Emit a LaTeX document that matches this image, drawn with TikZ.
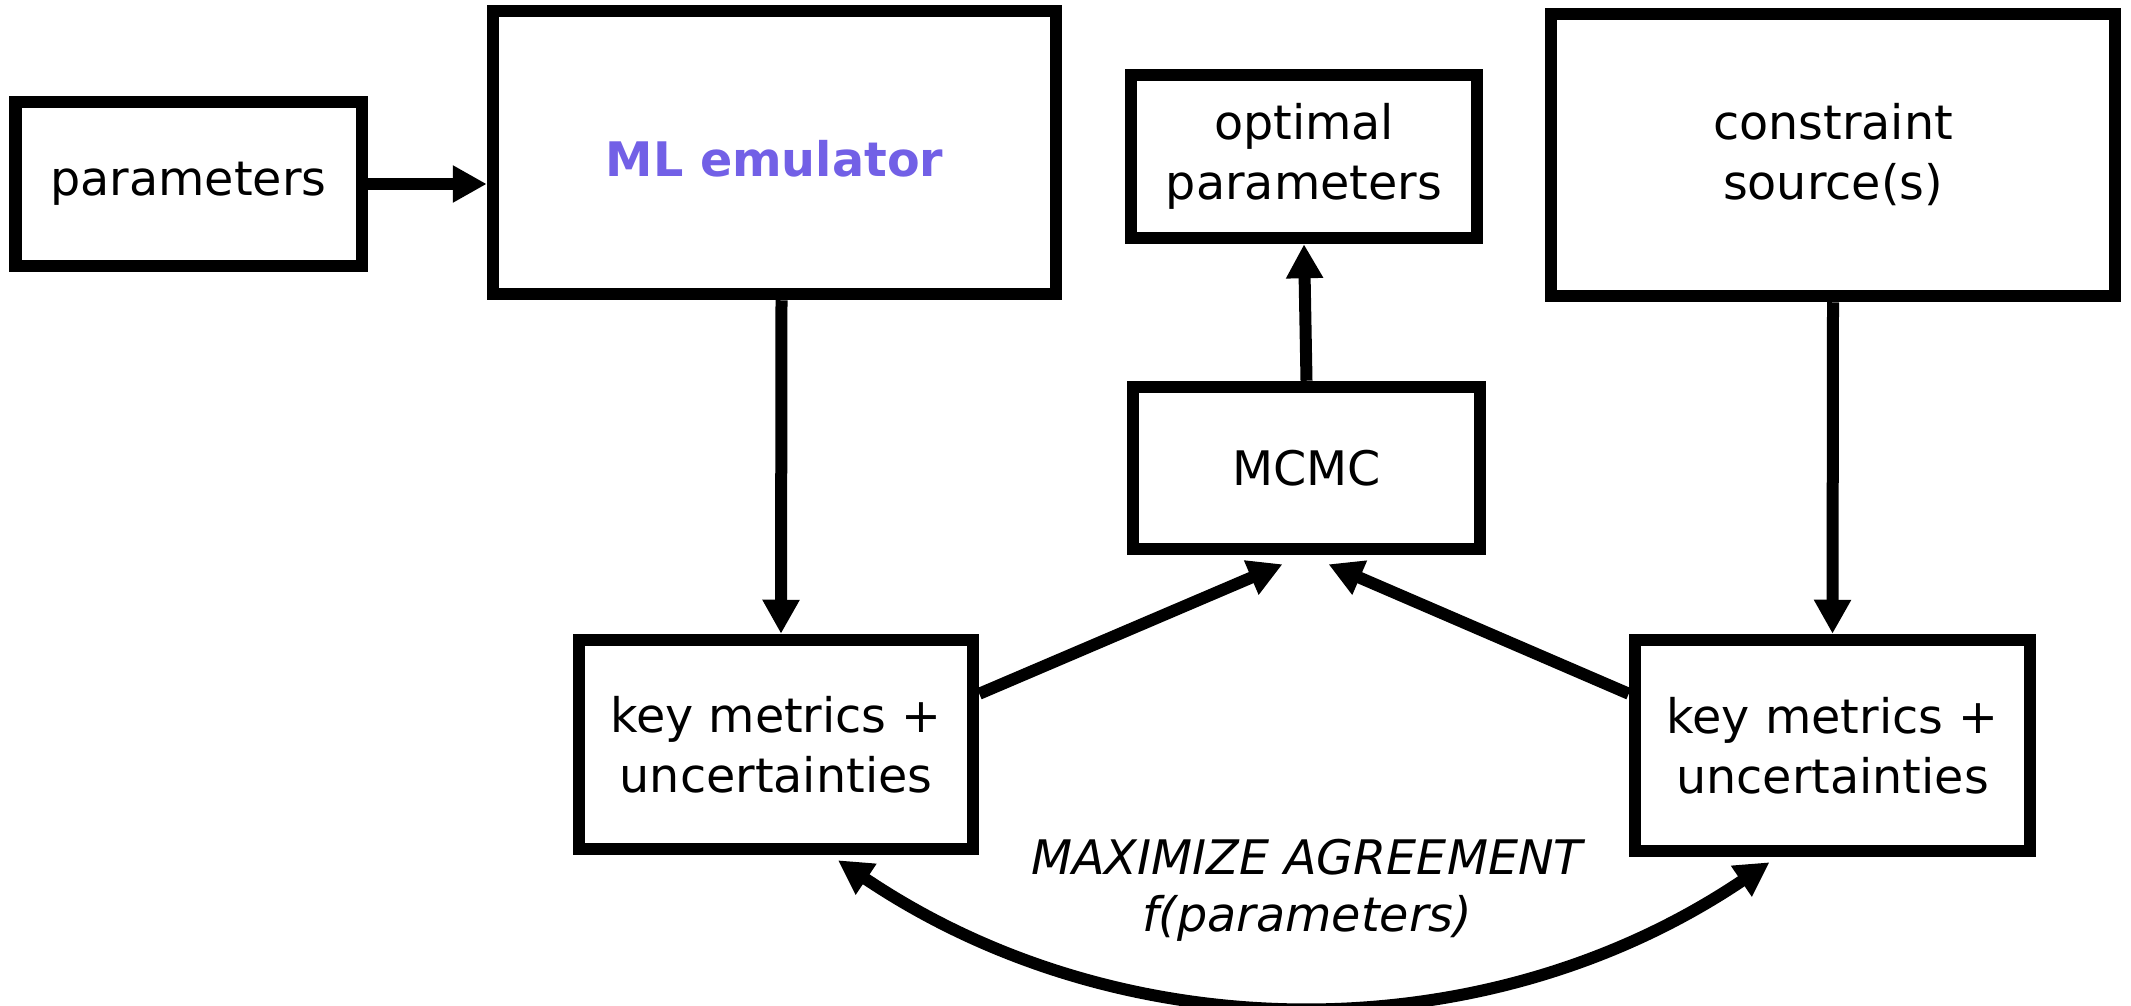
\documentclass[tikz,border=0pt]{standalone}
\usepackage{fontspec}
\setmainfont{DejaVu Sans}
\usetikzlibrary{arrows.meta,calc}
\definecolor{mlpurple}{RGB}{114,96,230}
\tikzset{
  box/.style={draw=black, line width=12.5pt, fill=white, rectangle, inner sep=0pt, align=center,
    font=\fontsize{47.6}{60}\selectfont},
  arr/.style={line width=12pt, -{Triangle[length=34pt,width=35pt]}},
  darr/.style={line width=12pt, {Triangle[length=34pt,width=35pt]}-{Triangle[length=34pt,width=35pt]}},
}
\begin{document}
\begin{tikzpicture}[x=1pt,y=-1pt]
\useasboundingbox (0,0) rectangle (2131,1006);
\node[box, minimum width=346.5pt, minimum height=164pt] (par) at (188.5,184) {parameters};
\node[box, minimum width=563pt, minimum height=283pt, text=mlpurple, text height=48pt, text depth=0.2pt, font=\fontsize{47.6}{60}\selectfont\bfseries] (ml) at (774.5,152.5) {ML emulator};
\node[box, minimum width=346pt, minimum height=163pt] (opt) at (1304,156.5) {optimal\\parameters};
\node[box, minimum width=564pt, minimum height=282pt] (con) at (1833,155) {constraint\\source(s)};
\node[box, minimum width=347pt, minimum height=162pt] (mcmc) at (1306.5,468) {MCMC};
\node[box, minimum width=394pt, minimum height=209pt] (kl) at (776,744.5) {key metrics +\\uncertainties};
\node[box, minimum width=395pt, minimum height=211pt] (kr) at (1832.5,745.5) {key metrics +\\uncertainties};
\node[align=center, inner sep=0pt, font=\fontsize{47.6}{57}\selectfont\itshape] (maxa) at (1307,890) {MAXIMIZE AGREEMENT\\f(parameters)};

\draw[arr] (par.east) -- (par.east -| ml.west);
\draw[arr] ($(ml.south)+(7,0)$) -- ($(kl.north)+(5,0)$);
\draw[arr] (con.south) -- (kr.north);
\draw[arr] (mcmc.north) -- (opt.south);
\coordinate (tl) at ($(mcmc.south)+(-24,9)$);
\coordinate (tr) at ($(mcmc.south)+(22,9)$);
\draw[arr] ($(kl.north east)+(0,60)$) -- (tl);
\draw[arr] ($(kr.north west)+(0,60)$) -- (tr);
\coordinate (cl) at ($(kl.south)+(62,5)$);
\coordinate (cr) at ($(kr.south)+(-63,5)$);
\draw[darr] (cl) to[out=-34,in=-146,looseness=0.94] (cr);
\end{tikzpicture}
\end{document}
